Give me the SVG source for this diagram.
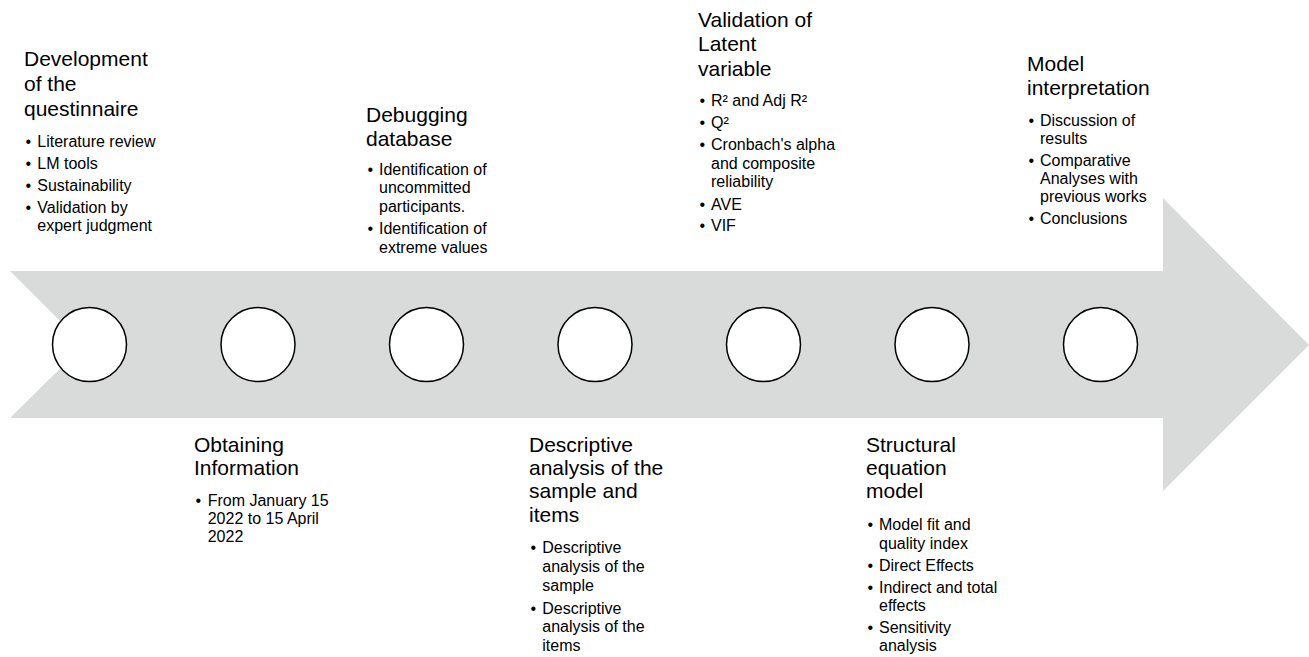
<svg xmlns="http://www.w3.org/2000/svg" width="1309" height="657" viewBox="0 0 1309 657">
<style>
.h{font-family:"Liberation Sans",Arial,sans-serif;font-size:21px;fill:#000}
.b{font-family:"Liberation Sans",Arial,sans-serif;font-size:16px;fill:#000}
.dot{fill:#fff;stroke:#000;stroke-width:1.5}
</style>
<rect width="1309" height="657" fill="#fff"/>
<g id="timeline-arrow">
<polygon points="10,271 1163,271 1163,198 1309,345 1163,491 1163,418 10,418 84,345" fill="#d9dada"/>
</g>
<g id="connectors"></g>
<g id="stage1">
<circle class="dot" cx="89.5" cy="344.5" r="37"/>
<text class="h" x="24"><tspan x="24" y="66">Development</tspan><tspan x="24" y="90.5">of the</tspan><tspan x="24" y="115.5">questinnaire</tspan></text>
<text class="b"><tspan x="25.5" y="147.3">•</tspan><tspan x="37.3" y="147.3">Literature review</tspan><tspan x="25.5" y="169.3">•</tspan><tspan x="37.3" y="169.3">LM tools</tspan><tspan x="25.5" y="190.7">•</tspan><tspan x="37.3" y="190.7">Sustainability</tspan><tspan x="25.5" y="212.7">•</tspan><tspan x="37.3" y="212.7">Validation by</tspan><tspan x="37.3" y="231">expert judgment</tspan></text>
</g>
<g id="stage2">
<circle class="dot" cx="258" cy="344.5" r="37"/>
<text class="h"><tspan x="194" y="451.7">Obtaining</tspan><tspan x="194" y="475">Information</tspan></text>
<text class="b"><tspan x="195.5" y="506">•</tspan><tspan x="207.7" y="506">From January 15</tspan><tspan x="207.7" y="524">2022 to 15 April</tspan><tspan x="207.7" y="541.7">2022</tspan></text>
</g>
<g id="stage3">
<circle class="dot" cx="426.5" cy="344.5" r="37"/>
<text class="h"><tspan x="366" y="122">Debugging</tspan><tspan x="366" y="145.5">database</tspan></text>
<text class="b"><tspan x="367.5" y="175">•</tspan><tspan x="379" y="175">Identification of</tspan><tspan x="379" y="193.3">uncommitted</tspan><tspan x="379" y="211.7">participants.</tspan><tspan x="367.5" y="234">•</tspan><tspan x="379" y="234">Identification of</tspan><tspan x="379" y="253">extreme values</tspan></text>
</g>
<g id="stage4">
<circle class="dot" cx="595" cy="344.5" r="37"/>
<text class="h"><tspan x="529" y="451.7">Descriptive</tspan><tspan x="529" y="475">analysis of the</tspan><tspan x="529" y="498.3">sample and</tspan><tspan x="529" y="521.7">items</tspan></text>
<text class="b"><tspan x="530.5" y="553">•</tspan><tspan x="542.3" y="553">Descriptive</tspan><tspan x="542.3" y="572">analysis of the</tspan><tspan x="542.3" y="590.5">sample</tspan><tspan x="530.5" y="613.5">•</tspan><tspan x="542.3" y="613.5">Descriptive</tspan><tspan x="542.3" y="632">analysis of the</tspan><tspan x="542.3" y="650.5">items</tspan></text>
</g>
<g id="stage5">
<circle class="dot" cx="763.5" cy="344.5" r="37"/>
<text class="h"><tspan x="698" y="26.5">Validation of</tspan><tspan x="698" y="51">Latent</tspan><tspan x="698" y="76">variable</tspan></text>
<text class="b"><tspan x="699.5" y="106">•</tspan><tspan x="711" y="106">R² and Adj R²</tspan><tspan x="699.5" y="128">•</tspan><tspan x="711" y="128">Q²</tspan><tspan x="699.5" y="150">•</tspan><tspan x="711" y="150">Cronbach's alpha</tspan><tspan x="711" y="168.5">and composite</tspan><tspan x="711" y="187">reliability</tspan><tspan x="699.5" y="209.5">•</tspan><tspan x="711" y="209.5">AVE</tspan><tspan x="699.5" y="231">•</tspan><tspan x="711" y="231">VIF</tspan></text>
</g>
<g id="stage6">
<circle class="dot" cx="932" cy="344.5" r="37"/>
<text class="h"><tspan x="866" y="451.7">Structural</tspan><tspan x="866" y="475">equation</tspan><tspan x="866" y="498.3">model</tspan></text>
<text class="b"><tspan x="867.5" y="530">•</tspan><tspan x="879" y="530">Model fit and</tspan><tspan x="879" y="548.5">quality index</tspan><tspan x="867.5" y="570.5">•</tspan><tspan x="879" y="570.5">Direct Effects</tspan><tspan x="867.5" y="592.7">•</tspan><tspan x="879" y="592.7">Indirect and total</tspan><tspan x="879" y="611">effects</tspan><tspan x="867.5" y="633.3">•</tspan><tspan x="879" y="633.3">Sensitivity</tspan><tspan x="879" y="651">analysis</tspan></text>
</g>
<g id="stage7">
<circle class="dot" cx="1100.5" cy="344.5" r="37"/>
<text class="h"><tspan x="1027" y="70.5">Model</tspan><tspan x="1027" y="95">interpretation</tspan></text>
<text class="b"><tspan x="1028.5" y="125.7">•</tspan><tspan x="1040" y="125.7">Discussion of</tspan><tspan x="1040" y="143.5">results</tspan><tspan x="1028.5" y="166">•</tspan><tspan x="1040" y="166">Comparative</tspan><tspan x="1040" y="184">Analyses with</tspan><tspan x="1040" y="202">previous works</tspan><tspan x="1028.5" y="224">•</tspan><tspan x="1040" y="224">Conclusions</tspan></text>
</g>
</svg>
